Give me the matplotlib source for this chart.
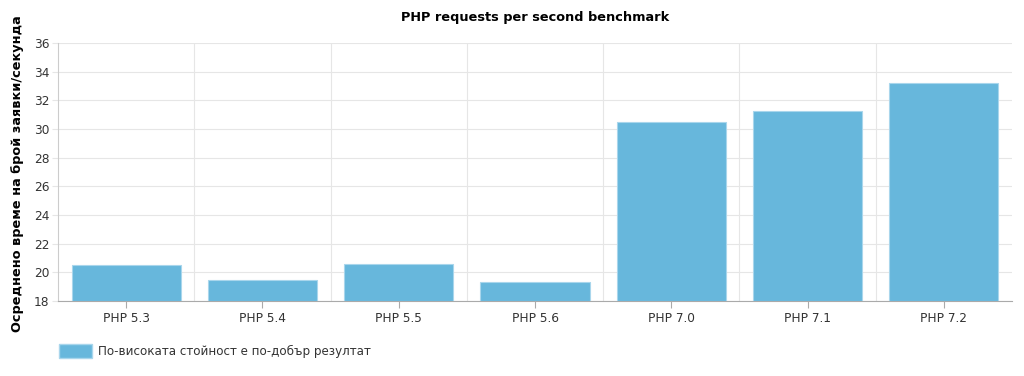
import matplotlib
matplotlib.use("Agg")
import matplotlib.pyplot as plt
from matplotlib.patches import Patch

# Data
versions = ["PHP 5.3", "PHP 5.4", "PHP 5.5", "PHP 5.6", "PHP 7.0", "PHP 7.1", "PHP 7.2"]
requests = [20.5, 19.5, 20.55, 19.3, 30.5, 31.25, 33.2]
y_ticks = [18, 20, 22, 24, 26, 28, 30, 32, 34, 36]

title = "PHP requests per second benchmark"
y_label = "Осреднено време на брой заявки/секунда"
legend_label = "По-високата стойност е по-добър резултат"

bar_color = "#67B7DC"
grid_color = "#e6e6e6"
axis_color = "#aaaaaa"
text_color = "#333333"

plt.rcParams['font.family'] = ['DejaVu Sans']

fig = plt.figure(figsize=(10.24, 3.76), dpi=100)
ax = fig.add_axes([58 / 1024, 1 - 301 / 376, (1012 - 58) / 1024, (301 - 43) / 376])

x = list(range(len(versions)))
ax.bar(x, [v - 18 for v in requests], bottom=18, width=0.8,
       color=bar_color, edgecolor="#a9d6ec", linewidth=0.8, zorder=3)

ax.set_xlim(-0.5, len(versions) - 0.5)
ax.set_ylim(18, 36)
ax.set_yticks(y_ticks)
ax.set_xticks(x)
ax.set_xticklabels(versions)

# vertical grid lines at category boundaries
ax.set_xticks([i + 0.5 for i in range(len(versions) - 1)], minor=True)
ax.grid(axis="x", which="minor", color=grid_color, linewidth=0.8, zorder=0)
ax.grid(axis="y", which="major", color=grid_color, linewidth=0.8, zorder=0)

for side in ["top", "right"]:
    ax.spines[side].set_visible(False)
ax.spines["left"].set_color("#cccccc")
ax.spines["bottom"].set_color(axis_color)

ax.tick_params(axis="x", which="major", length=5, color=axis_color,
               labelsize=8.7, labelcolor=text_color, pad=3)
ax.tick_params(axis="x", which="minor", length=0)
ax.tick_params(axis="y", length=4, color=grid_color, labelsize=8.7,
               labelcolor=text_color, pad=2)

ax.set_title(title, fontsize=9.3, fontweight="bold", color="#000000", pad=16)
fig.text(18 / 1024, 1 - 174 / 376, y_label, rotation=90, fontsize=9.3,
         fontweight="bold", ha="center", va="center", color="#000000")

handle = Patch(facecolor=bar_color, edgecolor="#a9d6ec")
fig.legend([handle], [legend_label], loc="center left",
           bbox_to_anchor=(48 / 1024, 1 - 351 / 376), frameon=False,
           fontsize=8.6, handlelength=2.8, handleheight=1.5, handletextpad=0.45,
           labelcolor=text_color)

fig.savefig("out.png", dpi=100)
